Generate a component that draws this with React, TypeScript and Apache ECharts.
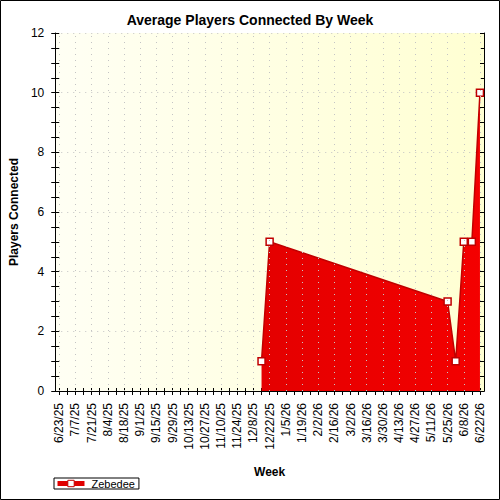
import React, { useEffect, useRef } from "react";
import * as echarts from "echarts";

// Week-start labels for the x axis (one category per week)
const weeks: string[] = [
  "6/23/25", "6/30/25", "7/7/25", "7/14/25", "7/21/25", "7/28/25", "8/4/25", "8/11/25",
  "8/18/25", "8/25/25", "9/1/25", "9/8/25", "9/15/25", "9/22/25", "9/29/25", "10/6/25",
  "10/13/25", "10/20/25", "10/27/25", "11/3/25", "11/10/25", "11/17/25", "11/24/25", "12/1/25",
  "12/8/25", "12/15/25", "12/22/25", "12/29/25", "1/5/26", "1/12/26", "1/19/26", "1/26/26",
  "2/2/26", "2/9/26", "2/16/26", "2/23/26", "3/2/26", "3/9/26", "3/16/26", "3/23/26",
  "3/30/26", "4/6/26", "4/13/26", "4/20/26", "4/27/26", "5/4/26", "5/11/26", "5/18/26",
  "5/25/26", "6/1/26", "6/8/26", "6/15/26", "6/22/26",
];

// Weeks that have a recorded average, and the average itself
const sampleWeeks: string[] = ["12/15/25", "12/22/25", "5/25/26", "6/1/26", "6/8/26", "6/15/26", "6/22/26"];
const avgPlayers: number[] = [1, 5, 3, 1, 5, 5, 10];

const seriesName = "Zebedee";
const FONT = "Liberation Sans, Arial, sans-serif";

export default function App() {
  const ref = useRef<HTMLDivElement>(null);

  useEffect(() => {
    if (!ref.current) return;
    const chart = echarts.init(ref.current, null, { renderer: "svg" });

    const dotted = { color: "#c4c4c4", width: 1, type: [1, 5] as number[] };
    const gridX = { left: 54, right: 16, top: 33, bottom: 109 };

    // vertical dotted guides at every labelled week
    const vGuides = weeks.filter((_, i) => i % 2 === 0).map((w) => ({ xAxis: w }));

    chart.setOption({
      animation: false,
      backgroundColor: "#ffffff",
      textStyle: { fontFamily: FONT },
      title: {
        text: "Average Players Connected By Week",
        left: "center",
        top: 8,
        textStyle: { fontSize: 14, fontWeight: "bold", color: "#000", fontFamily: FONT },
      },
      graphic: [
        {
          type: "rect",
          shape: { x: 0.5, y: 0.5, width: 499, height: 499 },
          style: { fill: "none", stroke: "#000", lineWidth: 1 },
          silent: true,
          z: 100,
        },
      ],
      legend: {
        left: 54,
        top: 478,
        orient: "horizontal",
        padding: [0, 4, 0, 1],
        itemWidth: 27,
        itemHeight: 8,
        borderColor: "#000",
        borderWidth: 1,
        borderRadius: 0,
        textStyle: { fontSize: 11, color: "#000", fontFamily: FONT, padding: [0, 0, 0, 2] },
        data: [
          {
            name: seriesName,
            lineStyle: { width: 5, color: "#e00000" },
            itemStyle: { color: "#ffffff", borderColor: "#c00000", borderWidth: 1 },
          },
        ],
      },
      grid: {
        ...gridX,
        show: true,
        borderWidth: 0,
        backgroundColor: new echarts.graphic.LinearGradient(0, 0, 1, 0, [
          { offset: 0, color: "#fffff4" },
          { offset: 1, color: "#ffffd2" },
        ]),
      },
      xAxis: [
        {
          type: "category",
          data: weeks,
          position: "bottom",
          boundaryGap: true,
          name: "Week",
          nameLocation: "middle",
          nameGap: 75,
          nameTextStyle: { fontSize: 12, fontWeight: "bold", color: "#000", fontFamily: FONT },
          axisLine: { show: true, lineStyle: { color: "#000", width: 1 } },
          axisTick: { show: true, interval: 0, alignWithLabel: true, length: 4, lineStyle: { color: "#000" } },
          axisLabel: { interval: 1, rotate: 90, fontSize: 12, color: "#000", margin: 12, fontFamily: FONT },
          splitLine: { show: false },
        },
        {
          type: "category",
          data: weeks,
          position: "bottom",
          boundaryGap: true,
          axisLine: { show: false },
          axisTick: { show: true, inside: true, interval: 0, alignWithLabel: true, length: 3, lineStyle: { color: "#000" } },
          axisLabel: { show: false },
          splitLine: { show: false },
        },
        {
          type: "category",
          data: weeks,
          position: "top",
          boundaryGap: true,
          axisLine: { show: true, lineStyle: { color: "#000", width: 1 } },
          axisTick: { show: true, inside: true, interval: 0, alignWithLabel: true, length: 4, lineStyle: { color: "#000" } },
          axisLabel: { show: false },
          splitLine: { show: false },
        },
      ],
      yAxis: [
        {
          type: "value",
          min: 0,
          max: 12,
          interval: 2,
          position: "left",
          name: "Players Connected",
          nameLocation: "middle",
          nameGap: 32,
          nameTextStyle: { fontSize: 12, fontWeight: "bold", color: "#000", fontFamily: FONT },
          axisLine: { show: true, lineStyle: { color: "#000", width: 1 } },
          axisTick: { show: true, length: 4, lineStyle: { color: "#000" } },
          minorTick: { show: true, splitNumber: 4, length: 4, lineStyle: { color: "#000" } },
          axisLabel: { fontSize: 12, color: "#000", margin: 11, fontFamily: FONT },
          splitLine: { show: true, lineStyle: dotted },
        },
        {
          type: "value",
          min: 0,
          max: 12,
          interval: 2,
          position: "left",
          axisLine: { show: false },
          axisTick: { show: true, inside: true, length: 4, lineStyle: { color: "#000" } },
          minorTick: { show: true, splitNumber: 4, length: 4, lineStyle: { color: "#000" } },
          axisLabel: { show: false },
          splitLine: { show: false },
        },
        {
          type: "value",
          min: 0,
          max: 12,
          interval: 2,
          position: "right",
          axisLine: { show: true, lineStyle: { color: "#000", width: 1 } },
          axisTick: { show: true, inside: true, length: 4, lineStyle: { color: "#000" } },
          minorTick: { show: true, splitNumber: 4, length: 4, lineStyle: { color: "#000" } },
          axisLabel: { show: false },
          splitLine: { show: false },
        },
      ],
      series: [
        {
          // carries the vertical dotted guides beneath the area
          type: "line",
          name: "guides",
          data: [],
          z: 1,
          silent: true,
          markLine: {
            silent: true,
            symbol: ["none", "none"],
            label: { show: false },
            lineStyle: dotted,
            data: vGuides,
          },
        },
        {
          type: "line",
          name: seriesName,
          data: sampleWeeks.map((w, i) => [w, avgPlayers[i]]),
          z: 3,
          symbol: "rect",
          symbolSize: 7,
          showAllSymbol: true,
          itemStyle: { color: "#ffffff", borderColor: "#c00000", borderWidth: 1.5 },
          lineStyle: { color: "#c00000", width: 1.5 },
          areaStyle: {
            opacity: 1,
            color: new echarts.graphic.LinearGradient(0, 0, 1, 0, [
              { offset: 0, color: "#e40000" },
              { offset: 1, color: "#f40000" },
            ]),
          },
        },
      ],
    });

    return () => chart.dispose();
  }, []);

  return (
    <div
      ref={ref}
      style={{ position: "absolute", left: 0, top: 0, width: 500, height: 500 }}
    />
  );
}
